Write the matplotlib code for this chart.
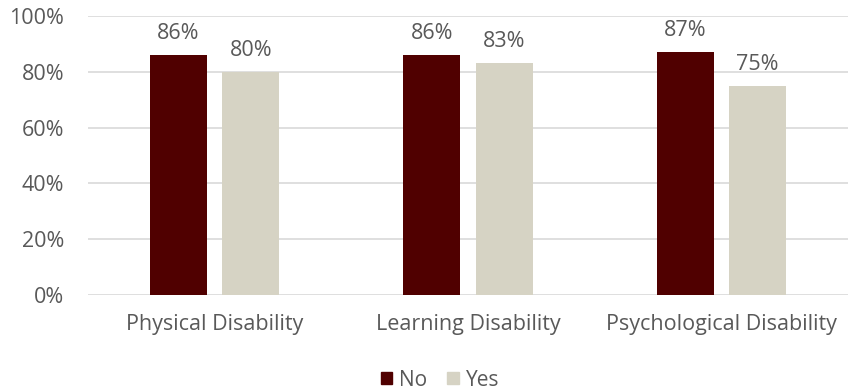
import numpy as np
import matplotlib.pyplot as plt
from matplotlib.patches import Patch

categories = ["Physical Disability", "Learning Disability", "Psychological Disability"]
no_vals = [86, 86, 87]
yes_vals = [80, 83, 75]

NO_COLOR = "#500000"
YES_COLOR = "#D6D3C4"
TEXT = "#595959"
FS = 15.5

plt.rcParams["font.family"] = ["Open Sans", "DejaVu Sans"]

fig = plt.figure(figsize=(8.56, 3.91), dpi=100)
ax = fig.add_axes([0.1028, 0.2455, 0.888, 0.7135])

x = np.arange(len(categories))
w = 0.225
gap = 0.06
off = (w + gap) / 2
b1 = ax.bar(x - off, no_vals, w, color=NO_COLOR, zorder=3)
b2 = ax.bar(x + off, yes_vals, w, color=YES_COLOR, zorder=3)

for bars, vals in ((b1, no_vals), (b2, yes_vals)):
    for b, v in zip(bars, vals):
        ax.text(b.get_x() + b.get_width() / 2, v + 4, f"{v}%", ha="center",
                va="bottom", fontsize=FS, color=TEXT)

ax.set_xlim(-0.5, 2.5)
ax.set_ylim(0, 100)
ax.set_yticks(range(0, 101, 20))
ax.set_yticklabels([f"{t}%" for t in range(0, 101, 20)])
ax.set_xticks(x)
ax.set_xticklabels(categories)
ax.tick_params(axis="both", length=0, labelsize=FS, labelcolor=TEXT)
ax.tick_params(axis="x", pad=14)
ax.tick_params(axis="y", pad=17)
ax.grid(axis="y", color="#D9D9D9", linewidth=1.2, zorder=0)
for s in ax.spines.values():
    s.set_visible(False)

handles = [Patch(color=NO_COLOR, label="No"), Patch(color=YES_COLOR, label="Yes")]
fig.legend(handles=handles, loc="center", bbox_to_anchor=(0.514, 0.028), ncol=2,
           frameon=False, fontsize=15, labelcolor=TEXT, handlelength=0.55,
           handleheight=0.55, handletextpad=0.35, columnspacing=0.95,
           borderpad=0)

fig.savefig("out.png", dpi=100)
